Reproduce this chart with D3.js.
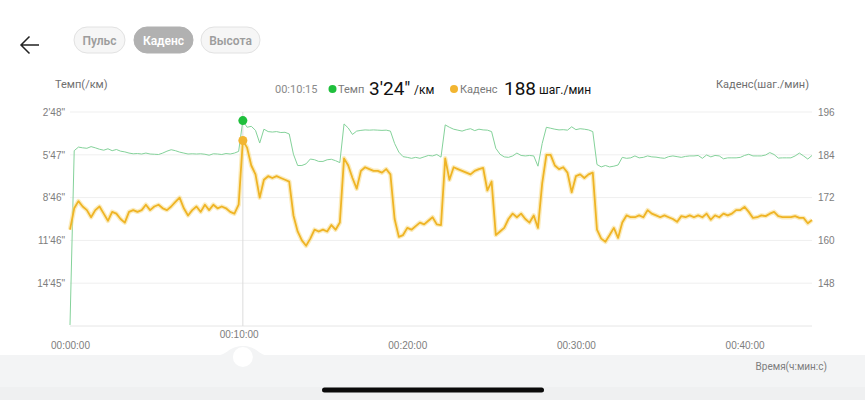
<!DOCTYPE html>
<html>
<head>
<meta charset="utf-8">
<script src="https://cdn.jsdelivr.net/npm/d3@7"></script>
<style>
  html, body { margin: 0; padding: 0; background: #fff; }
  svg { display: block; font-family: Roboto, "Noto Sans", "DejaVu Sans", sans-serif; }
</style>
</head>
<body>
<svg id="chart" width="865" height="400"></svg>
<script>
// Samples every 15 seconds over the workout
const stepSeconds = 15;

// Cadence, steps per minute
const cadence = [
  163,169,171,169.5,168.5,166.5,168.5,169.5,167.5,165.5,
  168,167.5,166,165,168,168.5,168,168.5,170,168.5,
  169.5,170,169,168.5,169.5,170.8,172,169,167,168.5,
  169.5,168,170,168.5,170,169,169.5,169,168,167.5,
  170,188,186,181,178.5,172,177,178,177.5,178,
  177.5,177,176.5,167,162.5,160,158.5,160.5,163,162.5,
  163,162.5,164.3,163,165,183,181,177.5,174.5,179.5,
  180.5,180,179.5,179.5,179,180,178.5,166,161,161.5,
  163.5,163,164,165,164.5,165.5,166.5,164.5,164.3,183,
  177,180.5,180,179.5,179,178.5,179.5,180,180.3,174,
  176.5,161.5,162.5,163.5,166,167.5,166.5,167.5,166,165,
  167,163.5,176,184,184,181,180,180.5,179,173.5,
  178,178.5,177.5,178.5,179,163,160.5,159.6,161.5,163.5,
  160.7,165,167,166.5,166.5,167,166.5,168.5,167.5,167,
  166.5,167,166.5,166,165.2,166.8,166.5,167,166.5,167,
  166.5,167.5,165.8,167,166.5,167.5,167,167.5,168.5,168.5,
  169.4,168,166.3,166.5,167,166.8,167.5,168,166.8,166.5,
  166.5,166.5,166.8,166.3,166.3,164.8,165.7
];

// Pace, seconds per kilometre
const pace = [
  1060,330,315,318,320,313,318,324,328,322,
  330,325,332,335,340,343,342,344,340,344,
  345,346,340,332,326,330,336,340,344,343,
  344,343,345,349,343,344,346,342,344,340,
  333,204,232,228,245,298,240,250,252,250,
  254,253,260,345,392,392,385,365,368,375,
  375,368,366,372,380,218,235,262,248,245,
  243,244,243,244,245,244,248,300,336,355,
  358,362,358,362,356,350,352,346,357,222,
  232,240,244,248,242,238,246,240,243,244,
  250,320,345,356,358,352,340,350,352,350,
  352,395,300,232,236,240,243,242,244,230,
  242,238,240,243,250,388,398,392,398,395,
  390,358,362,360,352,360,358,352,356,357,
  360,362,355,352,355,358,354,352,352,350,
  362,348,356,350,352,364,360,360,360,358,
  350,345,352,352,352,348,338,346,361,360,
  360,360,352,340,352,365,350
];

// Axis ticks
const timeTicks = [0, 600, 1200, 1800, 2400];
const paceTickLabels = ["2'48\"", "5'47\"", "8'46\"", "11'46\"", "14'45\""];
const cadenceTicks = [196, 184, 172, 160, 148];
const tabs = ["Пульс", "Каденс", "Высота"];
const activeTab = "Каденс";
const cursorIndex = 41;

const svg = d3.select("#chart");

// ---- scales ----
const plotLeft = 70, plotRight = 812, plotTop = 112, plotBottom = 326;
const x = d3.scaleLinear().domain([0, 2640]).range([plotLeft, plotRight]);
const yCad = d3.scaleLinear().domain([136, 196]).range([plotBottom, plotTop]);
const paceStep = 179.25;
const yPace = d3.scaleLinear().domain([168, 168 + paceStep * 5]).range([plotTop, plotBottom]);

const fmtPace = s => {
  const r = Math.round(s);
  return Math.floor(r / 60) + "'" + String(r % 60).padStart(2, "0") + "\"";
};
const fmtTime = s => {
  const h = Math.floor(s / 3600), m = Math.floor((s % 3600) / 60), sec = Math.round(s % 60);
  return [h, m, sec].map(v => String(v).padStart(2, "0")).join(":");
};

// ---- header: back arrow and tabs ----
svg.append("path")
  .attr("d", "M39,45 H21 M29.5,36.5 L21,45 L29.5,53.5")
  .attr("fill", "none").attr("stroke", "#222").attr("stroke-width", 1.5);

const tabX = [74, 134, 201], tabW = [51, 59, 59];
tabs.forEach((t, i) => {
  const on = t === activeTab;
  svg.append("rect")
    .attr("x", tabX[i]).attr("y", 27).attr("width", tabW[i]).attr("height", 26).attr("rx", 13)
    .attr("fill", on ? "#b1b1b1" : "#f6f6f6")
    .attr("stroke", on ? "#b1b1b1" : "#e2e2e2");
  svg.append("text")
    .attr("x", tabX[i] + tabW[i] / 2).attr("y", 44.5)
    .attr("text-anchor", "middle")
    .attr("font-size", 12).attr("font-weight", 600)
    .attr("fill", on ? "#fff" : "#9d9d9d")
    .text(t);
});

// ---- axis titles ----
svg.append("text").attr("x", 55).attr("y", 88).attr("font-size", 11).attr("fill", "#6f6f6f").text("Темп(/км)");
svg.append("text").attr("x", 809).attr("y", 88).attr("text-anchor", "end")
  .attr("font-size", 11).attr("fill", "#6f6f6f").text("Каденс(шаг./мин)");

// ---- readout at the cursor ----
const cursorT = cursorIndex * stepSeconds;
const leg = svg.append("g").attr("font-size", 11);
leg.append("text").attr("x", 275).attr("y", 93).attr("fill", "#8a8a8a").text(fmtTime(cursorT));
leg.append("circle").attr("cx", 332.5).attr("cy", 89).attr("r", 4).attr("fill", "#1fbf3c");
leg.append("text").attr("x", 338).attr("y", 93).attr("fill", "#7a7a7a").text("Темп");
leg.append("text").attr("x", 369).attr("y", 95).attr("font-size", 19).attr("fill", "#111").text(fmtPace(pace[cursorIndex]));
leg.append("text").attr("x", 414).attr("y", 94).attr("font-size", 12).attr("fill", "#111").text("/км");
leg.append("circle").attr("cx", 454).attr("cy", 89).attr("r", 4).attr("fill", "#f2b531");
leg.append("text").attr("x", 460).attr("y", 93).attr("fill", "#7a7a7a").text("Каденс");
leg.append("text").attr("x", 504).attr("y", 95).attr("font-size", 19).attr("fill", "#111").text(cadence[cursorIndex]);
leg.append("text").attr("x", 539).attr("y", 94).attr("font-size", 12).attr("fill", "#111").text("шаг./мин");

// ---- grid ----
const grid = svg.append("g");
cadenceTicks.concat([136]).forEach(v => {
  grid.append("line")
    .attr("x1", plotLeft).attr("x2", plotRight)
    .attr("y1", yCad(v)).attr("y2", yCad(v))
    .attr("stroke", v === 136 ? "#e6e6e6" : "#efefef").attr("stroke-width", 1);
});

// left axis (pace)
const leftAxis = d3.axisLeft(yPace)
  .tickValues(paceTickLabels.map((_, i) => 168 + paceStep * i))
  .tickFormat((d, i) => paceTickLabels[i])
  .tickSize(0).tickPadding(5);
svg.append("g").attr("transform", `translate(${plotLeft},0)`).call(leftAxis)
  .call(g => g.select(".domain").remove())
  .call(g => g.selectAll("text").attr("font-size", 10).attr("fill", "#7d7d7d").attr("font-family", null));

// right axis (cadence)
const rightAxis = d3.axisRight(yCad).tickValues(cadenceTicks).tickSize(0).tickPadding(6);
svg.append("g").attr("transform", `translate(${plotRight},0)`).call(rightAxis)
  .call(g => g.select(".domain").remove())
  .call(g => g.selectAll("text").attr("font-size", 10).attr("fill", "#7d7d7d").attr("font-family", null));

// cursor line
svg.append("line")
  .attr("x1", x(cursorT)).attr("x2", x(cursorT))
  .attr("y1", plotTop).attr("y2", plotBottom)
  .attr("stroke", "#dcdcdc").attr("stroke-width", 1);

// ---- bottom band with slider ----
svg.append("rect").attr("x", 0).attr("y", 355).attr("width", 865).attr("height", 45).attr("fill", "#f3f4f5");
svg.append("rect").attr("x", 0).attr("y", 387).attr("width", 865).attr("height", 13).attr("fill", "#eff0f1");
const kx = x(cursorT);
svg.append("path")
  .attr("d", `M${kx - 26},355.5 C${kx - 16},355.5 ${kx - 14},346 ${kx},346 C${kx + 14},346 ${kx + 16},355.5 ${kx + 26},355.5 Z`)
  .attr("fill", "#f3f4f5");
svg.append("circle").attr("cx", kx).attr("cy", 357).attr("r", 10).attr("fill", "#fff");
svg.append("rect").attr("x", 322).attr("y", 387.5).attr("width", 222).attr("height", 5).attr("rx", 2.5).attr("fill", "#0a0a0a");

// bottom axis (time); the tick under the slider sits higher, above the knob
const bottomAxis = d3.axisBottom(x).tickValues(timeTicks).tickFormat(fmtTime).tickSize(0).tickPadding(16);
svg.append("g").attr("transform", `translate(0,${plotBottom})`).call(bottomAxis)
  .call(g => g.select(".domain").remove())
  .call(g => g.selectAll("text").attr("font-size", 10).attr("fill", "#7d7d7d").attr("font-family", null))
  .call(g => g.selectAll(".tick").filter(d => d === 600).select("text").attr("y", 5));
svg.append("text").attr("x", 827).attr("y", 370).attr("text-anchor", "end")
  .attr("font-size", 10).attr("fill", "#7d7d7d").text("Время(ч:мин:с)");

// ---- series ----
const tOf = i => i * stepSeconds;
const paceLine = d3.line().x((d, i) => x(tOf(i))).y(d => yPace(Math.min(d, 168 + paceStep * 5)));
const cadLine = d3.line().x((d, i) => x(tOf(i))).y(d => yCad(d));

svg.append("path").datum(pace).attr("d", paceLine)
  .attr("fill", "none").attr("stroke", "#84d29a").attr("stroke-width", 1).attr("stroke-linejoin", "round");

svg.append("path").datum(cadence).attr("d", cadLine)
  .attr("fill", "none").attr("stroke", "#f7dc8a").attr("stroke-opacity", 0.55).attr("stroke-width", 4.5)
  .attr("stroke-linejoin", "round");
svg.append("path").datum(cadence).attr("d", cadLine)
  .attr("fill", "none").attr("stroke", "#efb425").attr("stroke-width", 1.8).attr("stroke-linejoin", "round");

// cursor markers
svg.append("circle").attr("cx", x(cursorT)).attr("cy", yPace(pace[cursorIndex])).attr("r", 4.5).attr("fill", "#1fbf3c");
svg.append("circle").attr("cx", x(cursorT)).attr("cy", yCad(cadence[cursorIndex])).attr("r", 4.5).attr("fill", "#f2b531");
</script>
</body>
</html>
